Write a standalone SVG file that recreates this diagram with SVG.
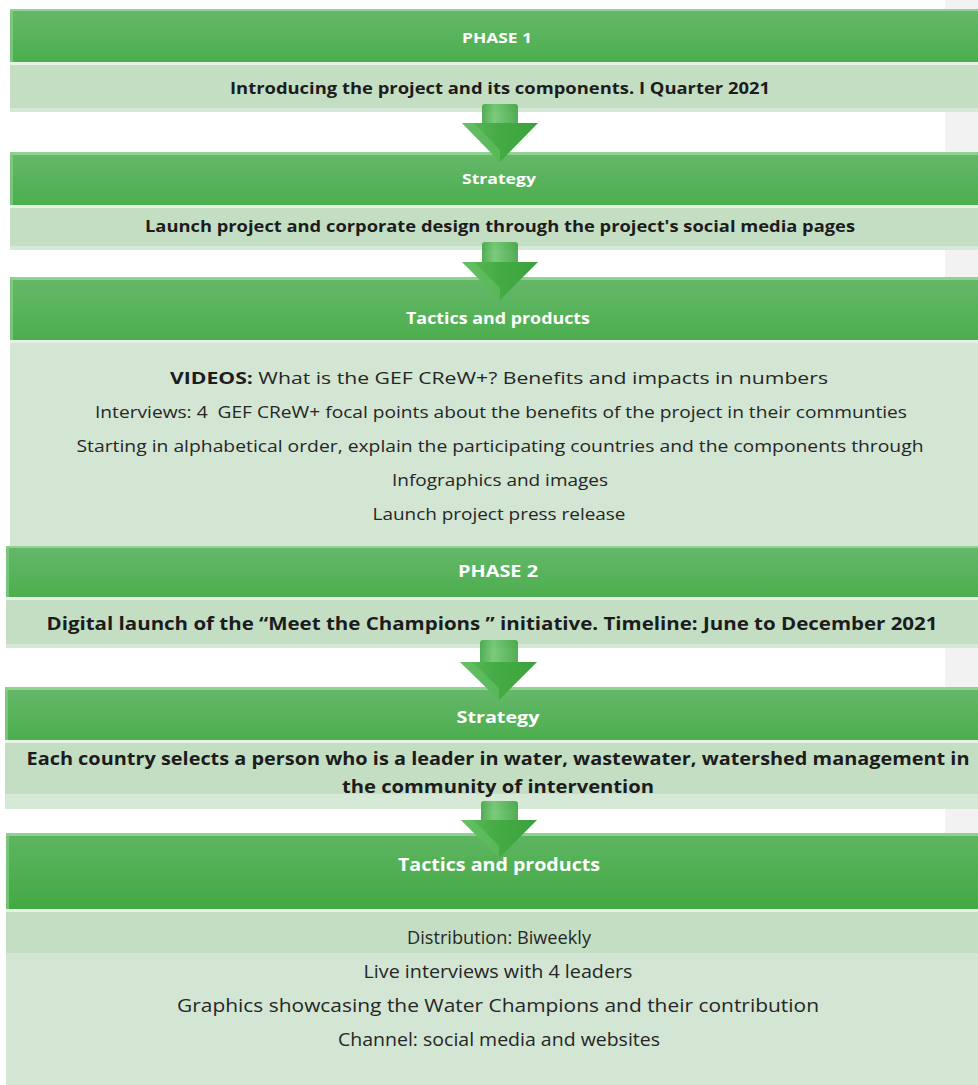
<svg xmlns="http://www.w3.org/2000/svg" width="978" height="1085" viewBox="0 0 978 1085">
  <defs>
    <linearGradient id="hdr" x1="0" y1="0" x2="0" y2="1">
      <stop offset="0" stop-color="#66b86a"/>
      <stop offset="1" stop-color="#4cae4e"/>
    </linearGradient>
    <linearGradient id="hdrDeep" x1="0" y1="0" x2="0" y2="1">
      <stop offset="0" stop-color="#5fb562"/>
      <stop offset="1" stop-color="#43a943"/>
    </linearGradient>
    <linearGradient id="arrowFill" x1="0" y1="0" x2="1" y2="0">
      <stop offset="0" stop-color="#5cba5c"/>
      <stop offset="0.5" stop-color="#44aa44"/>
      <stop offset="1" stop-color="#3aa23c"/>
    </linearGradient>
    <linearGradient id="shaftFill" x1="0" y1="0" x2="1" y2="0">
      <stop offset="0" stop-color="#3fa541"/>
      <stop offset="0.35" stop-color="#6cc56d"/>
      <stop offset="1" stop-color="#3ea33f"/>
    </linearGradient>
    <style>
      .hdr { fill: url(#hdr); }
      .hdrDeep { fill: url(#hdrDeep); }
      .shine { fill: #9bd89a; opacity: 0.8; }
      .edge { fill: #86cf86; opacity: 0.7; }
      .body { fill: #c4dec4; }
      .bodyLight { fill: #d3e5d3; }
      .bodyTop { fill: #e6f1e6; }
      .bodyBot { fill: #d6e8d6; }
      .ht { font-family: "Open Sans", "Liberation Sans", sans-serif; font-weight: bold; fill: #ffffff; text-anchor: middle; }
      .bt { font-family: "Open Sans", "Liberation Sans", sans-serif; font-weight: bold; fill: #1c1c1c; text-anchor: middle; }
      .rt { font-family: "Open Sans", "Liberation Sans", sans-serif; fill: #262626; text-anchor: middle; }
    </style>
  </defs>

  <!-- page background and side margin strip -->
  <rect x="0" y="0" width="978" height="1085" fill="#ffffff"/>
  <rect x="945" y="0" width="33" height="1085" fill="#f2f2f2"/>

  <!-- Phase 1 -->
  <g id="phase1">
    <rect class="hdr" x="10" y="9" width="980" height="53"/>
    <rect class="shine" x="10" y="9" width="980" height="2"/>
    <rect class="edge" x="10" y="9" width="3" height="53"/>
    <rect class="body" x="10" y="62" width="980" height="50"/>
    <rect class="bodyTop" x="10" y="62" width="980" height="3"/>
    <rect class="bodyBot" x="10" y="108" width="980" height="4"/>
    <text class="ht" x="497" y="43" font-size="15" textLength="70" lengthAdjust="spacingAndGlyphs">PHASE 1</text>
    <text class="bt" x="500" y="94" font-size="16.5" textLength="540" lengthAdjust="spacingAndGlyphs">Introducing the project and its components. I Quarter 2021</text>
  </g>

  <!-- Strategy (phase 1) -->
  <g id="strategy1">
    <rect class="hdr" x="10" y="152" width="980" height="53"/>
    <rect class="shine" x="10" y="152" width="980" height="3"/>
    <rect class="edge" x="10" y="152" width="3" height="53"/>
    <rect class="body" x="10" y="205" width="980" height="45"/>
    <rect class="bodyTop" x="10" y="205" width="980" height="3"/>
    <rect class="bodyBot" x="10" y="246" width="980" height="4"/>
    <text class="ht" x="499" y="184" font-size="15" textLength="74" lengthAdjust="spacingAndGlyphs">Strategy</text>
    <text class="bt" x="500" y="232" font-size="16.5" textLength="710" lengthAdjust="spacingAndGlyphs">Launch project and corporate design through the project's social media pages</text>
  </g>

  <!-- Tactics and products (phase 1) -->
  <g id="tactics1">
    <rect class="hdr" x="10" y="277" width="980" height="63"/>
    <rect class="shine" x="10" y="277" width="980" height="3"/>
    <rect class="edge" x="10" y="277" width="3" height="63"/>
    <rect class="bodyLight" x="10" y="340" width="980" height="207"/>
    <rect class="bodyTop" x="10" y="340" width="980" height="3"/>
    <text class="ht" x="498" y="324" font-size="16" textLength="184" lengthAdjust="spacingAndGlyphs">Tactics and products</text>
    <text class="rt" x="499" y="384" font-size="16" textLength="658" lengthAdjust="spacingAndGlyphs"><tspan font-weight="bold" fill="#1c1c1c">VIDEOS:</tspan> What is the GEF CReW+? Benefits and impacts in numbers</text>
    <text class="rt" x="501" y="418" font-size="16" textLength="812" lengthAdjust="spacingAndGlyphs" xml:space="preserve">Interviews: 4  GEF CReW+ focal points about the benefits of the project in their communties</text>
    <text class="rt" x="500" y="452" font-size="16" textLength="847" lengthAdjust="spacingAndGlyphs">Starting in alphabetical order, explain the participating countries and the components through</text>
    <text class="rt" x="500" y="486" font-size="16" textLength="216" lengthAdjust="spacingAndGlyphs">Infographics and images</text>
    <text class="rt" x="499" y="520" font-size="16" textLength="253" lengthAdjust="spacingAndGlyphs">Launch project press release</text>
  </g>

  <!-- Phase 2 -->
  <g id="phase2">
    <rect class="hdr" x="6" y="546" width="984" height="51"/>
    <rect class="shine" x="6" y="546" width="984" height="2"/>
    <rect class="edge" x="6" y="546" width="3" height="51"/>
    <rect class="body" x="6" y="597" width="984" height="51"/>
    <rect class="bodyTop" x="6" y="597" width="984" height="3"/>
    <rect class="bodyBot" x="6" y="644" width="984" height="4"/>
    <text class="ht" x="498" y="577" font-size="16" textLength="80" lengthAdjust="spacingAndGlyphs">PHASE 2</text>
    <text class="bt" x="492" y="630" font-size="18.5" textLength="891" lengthAdjust="spacingAndGlyphs">Digital launch of the “Meet the Champions ” initiative. Timeline: June to December 2021</text>
  </g>

  <!-- Strategy (phase 2) -->
  <g id="strategy2">
    <rect class="hdr" x="5" y="687" width="985" height="53"/>
    <rect class="shine" x="5" y="687" width="985" height="3"/>
    <rect class="edge" x="5" y="687" width="3" height="53"/>
    <rect class="body" x="5" y="740" width="985" height="69"/>
    <rect class="bodyTop" x="5" y="740" width="985" height="3"/>
    <rect class="bodyBot" x="5" y="794" width="985" height="15"/>
    <text class="ht" x="498" y="723" font-size="16.5" textLength="83" lengthAdjust="spacingAndGlyphs">Strategy</text>
    <text class="bt" x="498" y="765" font-size="18" textLength="943" lengthAdjust="spacingAndGlyphs">Each country selects a person who is a leader in water, wastewater, watershed management in</text>
    <text class="bt" x="498" y="793" font-size="18" textLength="312" lengthAdjust="spacingAndGlyphs">the community of intervention</text>
  </g>

  <!-- Tactics and products (phase 2) -->
  <g id="tactics2">
    <rect class="hdrDeep" x="6" y="833" width="984" height="76"/>
    <rect class="shine" x="6" y="833" width="984" height="3"/>
    <rect class="edge" x="6" y="833" width="3" height="76"/>
    <rect class="bodyLight" x="6" y="909" width="984" height="176"/>
    <rect class="body" x="6" y="909" width="984" height="44"/>
    <rect class="bodyTop" x="6" y="909" width="984" height="3"/>
    <text class="ht" x="499" y="871" font-size="17" textLength="202" lengthAdjust="spacingAndGlyphs">Tactics and products</text>
    <text class="rt" x="499" y="944" font-size="17.5" textLength="184" lengthAdjust="spacingAndGlyphs">Distribution: Biweekly</text>
    <text class="rt" x="498" y="978" font-size="17.5" textLength="269" lengthAdjust="spacingAndGlyphs">Live interviews with 4 leaders</text>
    <text class="rt" x="498" y="1012" font-size="17.5" textLength="642" lengthAdjust="spacingAndGlyphs">Graphics showcasing the Water Champions and their contribution</text>
    <text class="rt" x="499" y="1046" font-size="17.5" textLength="322" lengthAdjust="spacingAndGlyphs">Channel: social media and websites</text>
  </g>

  <!-- connectors: downward block arrows -->
  <g id="connectors">
    <g id="arrow1">
      <rect x="482" y="104" width="36" height="22" rx="3" fill="url(#shaftFill)" opacity="0.9"/>
      <polygon points="462,123 538,123 500,162" fill="url(#arrowFill)"/>
      <polygon points="462,123 500,162 500,150 474,123" fill="#6cc66c" opacity="0.5"/>
    </g>
    <g id="arrow2">
      <rect x="482" y="242" width="36" height="23" rx="3" fill="url(#shaftFill)" opacity="0.9"/>
      <polygon points="462,262 538,262 500,300" fill="url(#arrowFill)"/>
      <polygon points="462,262 500,300 500,288 474,262" fill="#6cc66c" opacity="0.5"/>
    </g>
    <g id="arrow3">
      <rect x="480" y="640" width="38" height="25" rx="3" fill="url(#shaftFill)" opacity="0.9"/>
      <polygon points="460,662 537,662 499,700" fill="url(#arrowFill)"/>
      <polygon points="460,662 499,700 499,688 472,662" fill="#6cc66c" opacity="0.5"/>
    </g>
    <g id="arrow4">
      <rect x="481" y="801" width="37" height="22" rx="3" fill="url(#shaftFill)" opacity="0.9"/>
      <polygon points="461,820 537,820 499,858" fill="url(#arrowFill)"/>
      <polygon points="461,820 499,858 499,846 473,820" fill="#6cc66c" opacity="0.5"/>
    </g>
  </g>
</svg>
